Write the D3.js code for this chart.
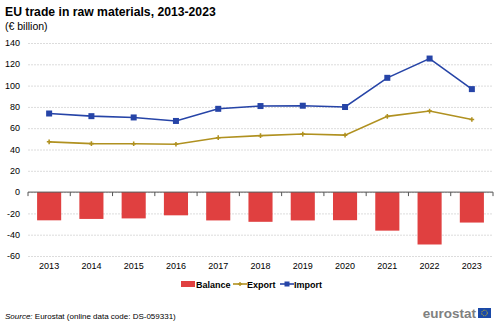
<!DOCTYPE html>
<html>
<head>
<meta charset="utf-8">
<script src="https://cdn.jsdelivr.net/npm/d3@7"></script>
<style>
  body { margin: 0; background: #fff; }
  svg { display: block; font-family: Arial, "Liberation Sans", sans-serif; }
  .grid line { stroke: #dcdcdc; stroke-dasharray: 2,1; }
  .grid path { display: none; }
</style>
</head>
<body>
<div id="content"></div>
<script>
var years = ["2013","2014","2015","2016","2017","2018","2019","2020","2021","2022","2023"];
var balance = [-26.5, -25.2, -24.7, -21.8, -26.6, -27.9, -26.6, -26.4, -36.2, -49.2, -28.6];
var exportVals = [47.2, 45.5, 45.4, 44.9, 51.1, 53.0, 54.5, 53.5, 71.1, 76.1, 68.2];
var importVals = [73.8, 71.3, 70.1, 66.8, 78.2, 80.8, 81.1, 79.9, 107.3, 125.4, 96.7];
var yTicks = [140, 120, 100, 80, 60, 40, 20, 0, -20, -40, -60];

var colBalance = "#e04040", colExport = "#b09120", colImport = "#2644a7";

var margin = {top: 43, right: 7, bottom: 69, left: 28},
    width = 500 - margin.left - margin.right,
    height = 325 - margin.top - margin.bottom;

var root = d3.select("div#content").append("svg")
  .attr("width", 500)
  .attr("height", 325);

root.append("text")
  .attr("x", 5).attr("y", 16)
  .attr("font-size", 12.2).attr("font-weight", "bold")
  .attr("fill", "#000")
  .text("EU trade in raw materials, 2013-2023");

root.append("text")
  .attr("x", 5).attr("y", 30)
  .attr("font-size", 10.5).attr("fill", "#000")
  .text("(€ billion)");

var svg = root.append("g")
  .attr("transform", "translate(" + margin.left + "," + margin.top + ")");

var x = d3.scaleBand().domain(years).range([0, width]).paddingInner(0.43).paddingOuter(0.215);
var xPoint = function(d) { return x(d) + x.bandwidth() / 2; };
var y = d3.scaleLinear().domain([-60, 140]).range([213, 0]);

// gridlines
svg.append("g")
  .attr("class", "grid")
  .call(d3.axisLeft(y).tickValues(yTicks).tickSize(-width).tickFormat(""));

svg.selectAll(".ylab")
  .data(yTicks)
  .enter().append("text")
  .attr("class", "ylab")
  .attr("x", -8)
  .attr("y", function(d) { return y(d); })
  .attr("dy", "0.35em")
  .attr("text-anchor", "end")
  .attr("font-size", 9)
  .attr("fill", "#000")
  .text(function(d) { return d; });

// balance bars
svg.selectAll(".bar")
  .data(balance)
  .enter().append("rect")
  .attr("class", "bar")
  .attr("x", function(d, i) { return x(years[i]); })
  .attr("width", x.bandwidth())
  .attr("y", y(0))
  .attr("height", function(d) { return y(d) - y(0); })
  .attr("fill", colBalance);

// zero axis with ticks between categories
svg.append("line")
  .attr("x1", 0).attr("x2", width)
  .attr("y1", y(0)).attr("y2", y(0))
  .attr("stroke", "#555").attr("stroke-width", 1);

svg.selectAll(".xtick")
  .data(d3.range(years.length + 1))
  .enter().append("line")
  .attr("class", "xtick")
  .attr("x1", function(i) { return i * (width / years.length); })
  .attr("x2", function(i) { return i * (width / years.length); })
  .attr("y1", y(0)).attr("y2", y(0) + 4)
  .attr("stroke", "#555");

svg.selectAll(".xlab")
  .data(years)
  .enter().append("text")
  .attr("class", "xlab")
  .attr("x", function(d) { return xPoint(d); })
  .attr("y", 226)
  .attr("text-anchor", "middle")
  .attr("font-size", 9)
  .attr("fill", "#000")
  .text(function(d) { return d; });

// lines
var line = d3.line()
  .x(function(d, i) { return xPoint(years[i]); })
  .y(function(d) { return y(d); });

svg.append("path")
  .datum(exportVals)
  .attr("fill", "none")
  .attr("stroke", colExport)
  .attr("stroke-width", 1.6)
  .attr("d", line);

svg.selectAll(".exp")
  .data(exportVals)
  .enter().append("path")
  .attr("class", "exp")
  .attr("transform", function(d, i) { return "translate(" + xPoint(years[i]) + "," + y(d) + ")"; })
  .attr("d", d3.symbol().type(d3.symbolCross).size(12))
  .attr("fill", colExport);

svg.append("path")
  .datum(importVals)
  .attr("fill", "none")
  .attr("stroke", colImport)
  .attr("stroke-width", 1.6)
  .attr("d", line);

svg.selectAll(".imp")
  .data(importVals)
  .enter().append("rect")
  .attr("class", "imp")
  .attr("x", function(d, i) { return xPoint(years[i]) - 3; })
  .attr("y", function(d) { return y(d) - 3; })
  .attr("width", 6).attr("height", 6)
  .attr("fill", colImport);

// legend
var legend = root.append("g").attr("transform", "translate(181,284)");
legend.append("rect").attr("x", 0).attr("y", -3).attr("width", 14).attr("height", 6).attr("fill", colBalance);
legend.append("text").attr("x", 15).attr("y", 3.5).attr("font-size", 9).attr("font-weight", "bold").text("Balance");

legend.append("line").attr("x1", 52).attr("x2", 66).attr("y1", 0).attr("y2", 0).attr("stroke", colExport).attr("stroke-width", 1.6);
legend.append("path").attr("transform", "translate(59,0)").attr("d", d3.symbol().type(d3.symbolCross).size(10)).attr("fill", colExport);
legend.append("text").attr("x", 66).attr("y", 3.5).attr("font-size", 9).attr("font-weight", "bold").text("Export");

legend.append("line").attr("x1", 99).attr("x2", 113).attr("y1", 0).attr("y2", 0).attr("stroke", colImport).attr("stroke-width", 1.6);
legend.append("rect").attr("x", 103.5).attr("y", -2.5).attr("width", 5).attr("height", 5).attr("fill", colImport);
legend.append("text").attr("x", 113).attr("y", 3.5).attr("font-size", 9).attr("font-weight", "bold").text("Import");

// source
var src = root.append("text").attr("x", 5).attr("y", 319).attr("font-size", 8).attr("fill", "#000");
src.append("tspan").attr("font-style", "italic").text("Source:");
src.append("tspan").text(" Eurostat (online data code: DS-059331)");

// logo
root.append("text")
  .attr("x", 476).attr("y", 318)
  .attr("text-anchor", "end")
  .attr("font-size", 13.5)
  .attr("font-weight", "bold")
  .attr("fill", "#808080")
  .text("eurostat");
root.append("rect").attr("x", 478).attr("y", 308).attr("width", 13).attr("height", 10).attr("fill", "#1a49a8");
root.append("circle").attr("cx", 484.5).attr("cy", 313).attr("r", 2.8).attr("fill", "none").attr("stroke", "#f5d400").attr("stroke-width", 0.9).attr("stroke-dasharray", "0.8,0.8");
</script>
</body>
</html>
